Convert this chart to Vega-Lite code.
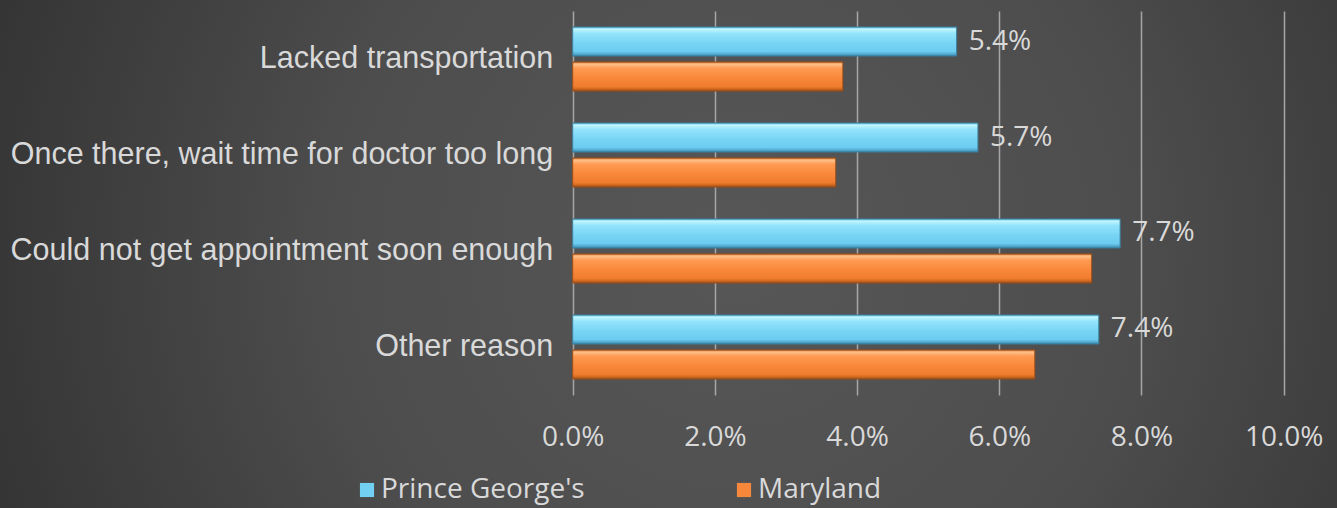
{
  "$schema": "https://vega.github.io/schema/vega-lite/v6.json",
  "width": 1337,
  "height": 508,
  "autosize": {"type": "none"},
  "padding": 0,
  "background": "#2a2a2a",
  "config": {
    "view": {
      "stroke": null,
      "fill": {
        "gradient": "radial",
        "x1": 0.55, "y1": 0.5, "r1": 0,
        "x2": 0.55, "y2": 0.5, "r2": 0.75,
        "stops": [
          {"offset": 0, "color": "#575757"},
          {"offset": 0.4, "color": "#4d4d4d"},
          {"offset": 1, "color": "#262626"}
        ]
      }
    },
    "font": "Open Sans"
  },
  "data": {
    "values": [
      {"reason": "Lacked transportation", "series": "Prince George's", "value": 0.054},
      {"reason": "Lacked transportation", "series": "Maryland", "value": 0.038},
      {"reason": "Once there, wait time for doctor too long", "series": "Prince George's", "value": 0.057},
      {"reason": "Once there, wait time for doctor too long", "series": "Maryland", "value": 0.037},
      {"reason": "Could not get appointment soon enough", "series": "Prince George's", "value": 0.077},
      {"reason": "Could not get appointment soon enough", "series": "Maryland", "value": 0.073},
      {"reason": "Other reason", "series": "Prince George's", "value": 0.074},
      {"reason": "Other reason", "series": "Maryland", "value": 0.065}
    ]
  },
  "encoding": {
    "y": {
      "field": "reason",
      "type": "nominal",
      "sort": ["Lacked transportation", "Once there, wait time for doctor too long", "Could not get appointment soon enough", "Other reason"],
      "scale": {"range": [11, 395], "paddingInner": 0.333, "paddingOuter": 0.1667},
      "axis": {
        "orient": "left",
        "offset": -572.7,
        "domain": false,
        "ticks": false,
        "grid": false,
        "labelPadding": 20,
        "labelFont": "Liberation Sans",
        "labelFontSize": 30.5,
        "labelColor": "#d9d9d9",
        "labelLimit": 700,
        "title": null
      }
    },
    "yOffset": {
      "field": "series",
      "type": "nominal",
      "sort": ["Prince George's", "Maryland"],
      "scale": {"domain": ["Prince George's", "Maryland"], "paddingInner": 0.171, "paddingOuter": 0}
    },
    "x": {
      "field": "value",
      "type": "quantitative",
      "scale": {"domain": [-0.08055, 0.1075], "nice": false, "zero": false},
      "axis": {
        "orient": "top",
        "values": [0, 0.02, 0.04, 0.06, 0.08, 0.1],
        "format": ".1%",
        "domain": false,
        "ticks": false,
        "grid": true,
        "gridColor": "#a6a6a6",
        "gridWidth": 1.5,
        "labelFont": "Open Sans",
        "labelFontSize": 28,
        "labelColor": "#d9d9d9",
        "labelBaseline": "middle",
        "labelPadding": -437,
        "title": null
      }
    }
  },
  "layer": [
    {
      "mark": {"type": "bar", "strokeWidth": 1},
      "encoding": {
        "fill": {
          "field": "series",
          "type": "nominal",
          "scale": {"domain": ["Prince George's", "Maryland"], "range": ["#72d1f3", "#f7873a"]},
          "condition": [
            {
              "test": "datum.series === 'Maryland'",
              "value": {
                "gradient": "linear", "x1": 0, "y1": 0, "x2": 0, "y2": 1,
                "stops": [
                  {"offset": 0, "color": "#d7742e"},
                  {"offset": 0.07, "color": "#ffc08a"},
                  {"offset": 0.22, "color": "#fd9b52"},
                  {"offset": 0.55, "color": "#f9883a"},
                  {"offset": 0.85, "color": "#f07c2e"},
                  {"offset": 0.94, "color": "#c8651f"},
                  {"offset": 1, "color": "#9c4d18"}
                ]
              }
            },
            {
              "test": "datum.series !== 'Maryland'",
              "value": {
                "gradient": "linear", "x1": 0, "y1": 0, "x2": 0, "y2": 1,
                "stops": [
                  {"offset": 0, "color": "#5fb9dc"},
                  {"offset": 0.07, "color": "#c2f7ff"},
                  {"offset": 0.22, "color": "#93e4fb"},
                  {"offset": 0.55, "color": "#79d5f5"},
                  {"offset": 0.85, "color": "#6ccbef"},
                  {"offset": 0.94, "color": "#4fa6cc"},
                  {"offset": 1, "color": "#3a86a8"}
                ]
              }
            }
          ],
          "legend": {
            "orient": "none",
            "legendX": 353,
            "legendY": 476,
            "direction": "horizontal",
            "title": null,
            "symbolType": "square",
            "symbolSize": 200,
            "symbolStrokeWidth": 0,
            "labelFont": "Open Sans",
            "labelFontSize": 28,
            "labelColor": "#d9d9d9",
            "labelLimit": 500,
            "labelOffset": 0,
            "columnPadding": 145
          }
        },
        "stroke": {
          "condition": {"test": "datum.series === 'Maryland'", "value": "#9a4c18"},
          "value": "#3a7f9e"
        }
      }
    },
    {
      "transform": [{"filter": "datum.series === \"Prince George's\""}],
      "mark": {
        "type": "text",
        "align": "left",
        "baseline": "middle",
        "dx": 12,
        "font": "Open Sans",
        "fontSize": 28,
        "fill": "#d9d9d9"
      },
      "encoding": {
        "text": {"field": "value", "type": "quantitative", "format": ".1%"}
      }
    }
  ]
}
